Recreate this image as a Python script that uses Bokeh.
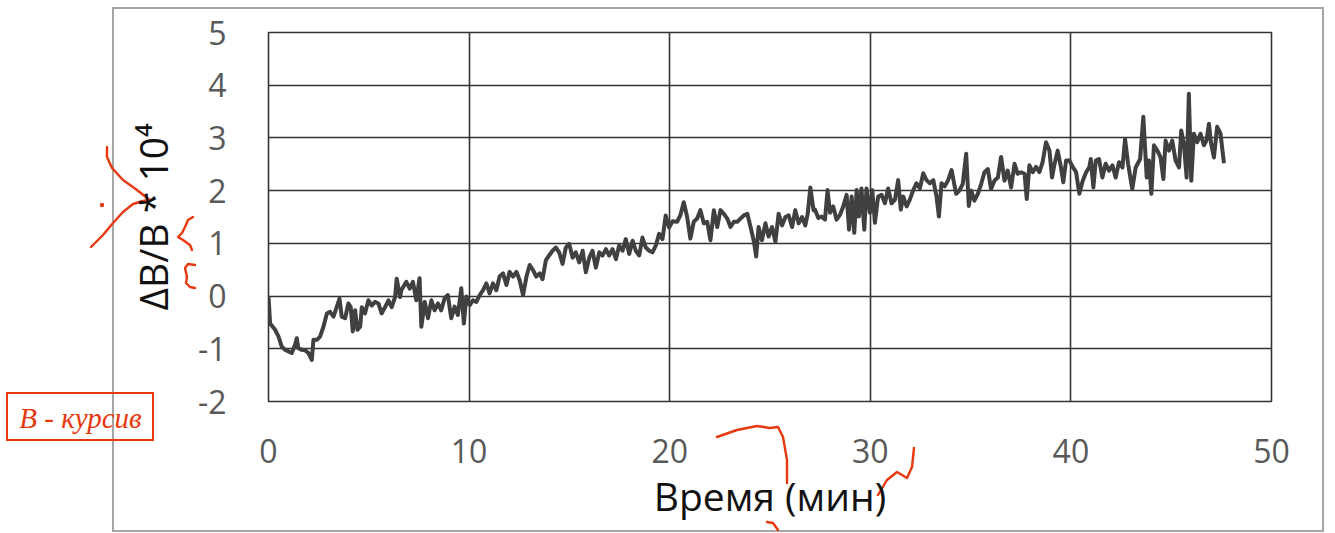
from urllib.parse import quote
from bokeh.plotting import figure
from bokeh.models import FixedTicker, Label, InlineStyleSheet
from bokeh.embed import file_html
from bokeh.resources import INLINE

# ---- data ----
time_min = [
    0.00, 0.08, 0.33, 0.50, 0.66, 0.83, 1.00, 1.16, 1.33, 1.41, 1.49, 1.66, 1.83, 1.99, 2.16, 2.24,
    2.41, 2.57, 2.74, 2.91, 3.07, 3.24, 3.40, 3.54, 3.65, 3.82, 3.98, 4.10, 4.20, 4.32, 4.43, 4.57,
    4.65, 4.81, 4.98, 5.15, 5.31, 5.48, 5.64, 5.81, 5.98, 6.14, 6.31, 6.39, 6.56,
    6.62, 6.87, 7.04, 7.20, 7.37, 7.53, 7.62, 7.79, 7.95, 8.12, 8.28, 8.45, 8.61, 8.78, 8.94, 9.11,
    9.28, 9.44, 9.61, 9.74, 9.86, 10.03, 10.19, 10.36, 10.53, 10.69, 10.86, 11.02, 11.19, 11.36,
    11.52, 11.69, 11.86, 12.02, 12.19, 12.36, 12.52, 12.69, 12.86, 13.02, 13.19, 13.35, 13.52,
    13.66, 13.83, 13.99, 14.16, 14.33, 14.49, 14.66, 14.82, 14.99, 15.16, 15.32, 15.49, 15.66, 15.82,
    15.99, 16.15, 16.32, 16.49, 16.65, 16.82, 16.98, 17.15, 17.32, 17.48, 17.65, 17.81, 17.98, 18.15,
    18.31, 18.48, 18.64, 18.81, 18.98, 19.14, 19.31, 19.47, 19.64, 19.80, 19.97, 20.14,
    20.37, 20.53, 20.70, 20.87, 21.03, 21.20, 21.37, 21.53, 21.70, 21.87, 22.03, 22.20, 22.37, 22.53,
    22.70, 22.87, 23.03, 23.20, 23.37, 23.53, 23.70, 23.87, 24.03, 24.20, 24.31, 24.43, 24.60, 24.77,
    24.93, 25.10, 25.27, 25.43, 25.60, 25.77, 25.93, 26.10, 26.26, 26.43, 26.60, 26.76, 26.88, 27.01,
    27.17,
    27.24, 27.41, 27.57, 27.74, 27.87, 27.99, 28.15, 28.32, 28.49, 28.65, 28.82, 28.94, 29.07, 29.20,
    29.32, 29.43, 29.56, 29.70, 29.81, 29.98, 30.10, 30.23, 30.39, 30.56, 30.73, 30.89, 31.06, 31.23,
    31.39, 31.52, 31.64, 31.81, 31.97, 32.14, 32.30, 32.47, 32.64, 32.80, 32.97, 33.14, 33.30, 33.42,
    33.55, 33.71, 33.88, 34.05,
    34.28, 34.44, 34.61, 34.78, 34.91, 35.03, 35.19, 35.36, 35.53, 35.69, 35.86, 36.02, 36.19,
    36.36, 36.52, 36.69, 36.85, 37.02, 37.19, 37.35, 37.52, 37.69, 37.80, 37.93, 38.10, 38.26, 38.43,
    38.59, 38.76, 38.93, 39.06, 39.17, 39.34, 39.50, 39.62, 39.76, 39.93, 40.09, 40.26, 40.42, 40.59,
    40.76, 40.92,
    40.99, 41.12, 41.24, 41.40, 41.57, 41.73, 41.90, 42.07, 42.23, 42.40, 42.57, 42.70, 42.85, 43.06,
    43.23, 43.45, 43.61, 43.78, 43.89, 44.01, 44.14, 44.31, 44.47, 44.61, 44.72, 44.89, 45.05, 45.22,
    45.39, 45.50, 45.63, 45.77, 45.88, 46.00, 46.13, 46.30, 46.46, 46.63, 46.76, 46.88, 46.99, 47.13,
    47.29, 47.46, 47.63,
]
delta_b = [
    0.00, -0.52, -0.64, -0.77, -0.96, -1.02, -1.05, -1.08, -0.92, -0.80, -0.99, -1.02, -1.03, -1.08, -1.21, -0.83,
    -0.83, -0.77, -0.58, -0.33, -0.30, -0.39, -0.21, -0.05, -0.39, -0.42, -0.14, -0.21, -0.67, -0.27, -0.64, -0.58,
    -0.21, -0.33, -0.08, -0.18, -0.11, -0.14, -0.33, -0.21, -0.08, -0.21, -0.02, 0.33, -0.02,
    0.11, 0.27, 0.14, 0.27, -0.08, 0.34, -0.58, -0.11, -0.42, -0.08, -0.27, -0.14, -0.27, -0.04, 0.02, -0.42,
    -0.20, -0.36, 0.15, -0.52, -0.01, -0.17, -0.08, -0.11, 0.02, 0.11, 0.24, 0.05, 0.24, 0.11,
    0.37, 0.43, 0.21, 0.46, 0.37, 0.46, 0.30, 0.02, 0.37, 0.59, 0.49, 0.37, 0.43,
    0.32, 0.68, 0.77, 0.86, 0.92, 0.83, 0.61, 0.92, 0.99, 0.73, 0.83, 0.64, 0.86, 0.45,
    0.73, 0.86, 0.54, 0.83, 0.77, 0.89, 0.77, 0.89, 0.70, 0.96, 0.86, 1.08, 0.80, 1.05,
    0.86, 0.77, 1.11, 0.92, 0.86, 0.83, 0.96, 1.18, 1.08, 1.53, 1.30, 1.42,
    1.41, 1.53, 1.78, 1.50, 1.09, 1.41, 1.47, 1.63, 1.38, 1.41, 1.06, 1.63, 1.31, 1.63,
    1.56, 1.47, 1.31, 1.41, 1.41, 1.47, 1.53, 1.56, 1.31, 1.03, 0.75, 1.31, 1.06, 1.38,
    1.13, 1.31, 1.03, 1.56, 1.34, 1.50, 1.53, 1.31, 1.63, 1.38, 1.50, 1.34, 1.56, 2.06,
    1.63,
    1.64, 1.48, 1.51, 1.45, 2.01, 1.58, 1.70, 1.45, 1.54, 1.70, 1.92, 1.26, 1.89, 1.20,
    2.01, 1.51, 2.04, 1.26, 2.04, 1.58, 2.01, 1.39, 1.89, 1.92, 1.76, 2.04, 1.76, 1.83,
    2.20, 1.64, 1.89, 1.70, 1.83, 2.01, 2.14, 2.04, 2.33, 2.20, 2.14, 2.20, 1.89, 1.51,
    2.14, 2.08, 2.20, 2.39,
    1.94, 2.00, 2.13, 2.70, 1.71, 2.00, 1.81, 1.94, 2.13, 2.35, 2.41, 2.03, 2.19,
    2.25, 2.64, 2.19, 2.38, 2.06, 2.51, 2.32, 2.35, 2.32, 1.84, 2.48, 2.35, 2.45, 2.35,
    2.54, 2.92, 2.76, 2.25, 2.48, 2.76, 2.45, 2.16, 2.57, 2.57, 2.45, 2.35, 1.94, 2.19,
    2.35, 2.45,
    2.60, 2.06, 2.57, 2.60, 2.25, 2.51, 2.38, 2.48, 2.25, 2.54, 2.44, 2.98, 2.51, 2.03,
    2.44, 2.60, 3.40, 2.25, 2.57, 1.94, 2.86, 2.76, 2.63, 2.22, 2.95, 2.76, 2.95, 2.57,
    2.44, 3.14, 2.89, 2.25, 3.84, 2.19, 3.08, 2.92, 3.08, 2.86, 2.95, 3.27, 2.89, 2.63,
    3.21, 3.08, 2.52,
]
x_ticks = [0, 10, 20, 30, 40, 50]
x_tick_labels = ["0", "10", "20", "30", "40", "50"]
y_ticks = [-2, -1, 0, 1, 2, 3, 4, 5]
y_tick_labels = ["-2", "-1", "0", "1", "2", "3", "4", "5"]
x_label = "Время (мин)"
y_label = "ΔB/B * 10⁴"
note_text = "B - курсив"

RED = "#e8380f"

# ---- page decoration (chart-area border, proofreading marks) drawn behind the canvas ----
strokes = [
    [(107, 147), (107, 157), (112, 168), (123, 180), (137, 190), (147, 198), (150, 200), (143, 201),
     (133, 204), (123, 212), (113, 223), (103, 235), (91, 247)],
    [(193, 217), (188, 220), (185, 227), (182, 233), (178, 237), (183, 240), (190, 245), (192, 250)],
    [(195, 265), (188, 264), (185, 268), (187, 277), (186, 283), (190, 287), (195, 288)],
    [(717, 437), (737, 430), (757, 426), (770, 428), (778, 427), (783, 437), (787, 460), (787, 483)],
    [(878, 495), (887, 480), (897, 472), (907, 478), (912, 467), (914, 448)],
    [(767, 522), (773, 523), (778, 530)],
]
svg_parts = [
    '<svg xmlns="http://www.w3.org/2000/svg" width="1335" height="533" viewBox="0 0 1335 533">',
    '<rect x="0" y="0" width="1335" height="533" fill="white"/>',
    '<rect x="113" y="8" width="1210" height="523" fill="none" stroke="#a6a6a6" stroke-width="2"/>',
    f'<rect x="7" y="393" width="146" height="47" fill="none" stroke="{RED}" stroke-width="2"/>',
    f'<circle cx="102" cy="205" r="2.2" fill="{RED}"/>',
]
for s in strokes:
    pts = " ".join(f"{a},{b}" for a, b in s)
    svg_parts.append(f'<polyline points="{pts}" fill="none" stroke="{RED}" stroke-width="2.4" '
                     'stroke-linecap="round" stroke-linejoin="round"/>')
svg_parts.append('</svg>')
bg_url = 'url("data:image/svg+xml,' + quote("".join(svg_parts), safe="") + '")'

p = figure(width=1335, height=533, x_range=(0, 50), y_range=(-2, 5),
           output_backend="svg", toolbar_location=None,
           min_border_left=264, min_border_right=64, min_border_top=32, min_border_bottom=132)
p.background_fill_color = "white"
p.border_fill_color = "white"
p.border_fill_alpha = 0
p.outline_line_color = "#333333"
p.outline_line_width = 1.6
p.styles = {"background-color": "white", "background-image": bg_url,
            "background-repeat": "no-repeat", "background-position": "0 0"}
p.stylesheets = [InlineStyleSheet(css=":host { background-color: white; background-image: %s; "
                                      "background-repeat: no-repeat; background-position: 0 0; }" % bg_url)]

for ax, ticks, labels in ((p.xaxis[0], x_ticks, x_tick_labels), (p.yaxis[0], y_ticks, y_tick_labels)):
    ax.ticker = FixedTicker(ticks=ticks)
    ax.major_label_overrides = {t: l for t, l in zip(ticks, labels)}
    ax.axis_line_color = None
    ax.major_tick_line_color = None
    ax.minor_tick_line_color = None
    ax.major_label_text_font = "Open Sans"
    ax.major_label_text_font_size = "32px"
    ax.major_label_text_color = "#595959"
    ax.axis_label_text_font = "Open Sans"
    ax.axis_label_text_font_size = "39px"
    ax.axis_label_text_font_style = "normal"
    ax.axis_label_text_color = "#111111"

p.xaxis[0].axis_label = x_label
p.yaxis[0].axis_label = y_label
p.xaxis[0].major_label_standoff = 31
p.xaxis[0].axis_label_standoff = 3
p.yaxis[0].major_label_standoff = 36
p.yaxis[0].axis_label_standoff = 16

p.xgrid[0].ticker = FixedTicker(ticks=x_ticks)
p.ygrid[0].ticker = FixedTicker(ticks=y_ticks)
for g in (p.xgrid[0], p.ygrid[0]):
    g.grid_line_color = "#333333"
    g.grid_line_width = 1.6

p.line(time_min, delta_b, line_color="#404040", line_width=4, line_join="round")

# the red note text (side-panel annotations are not clipped to the frame)
p.add_layout(Label(x=80, y=417, x_units="canvas", y_units="canvas", text=note_text,
                   text_font="Liberation Serif", text_font_style="italic", text_font_size="29px",
                   text_color=RED, text_align="center", text_baseline="middle"), "left")

open("out.html", "w").write(file_html(p, INLINE))
